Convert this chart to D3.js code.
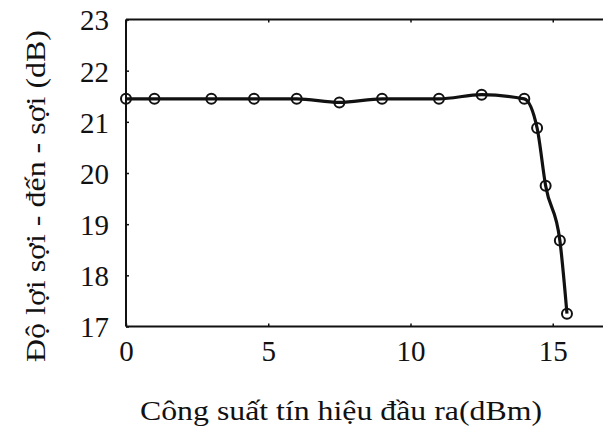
<!DOCTYPE html>
<html>
<head>
<meta charset="utf-8">
<script src="https://cdn.jsdelivr.net/npm/d3@7"></script>
<style>
  html, body { margin: 0; padding: 0; background: #fff; }
  svg { display: block; }
</style>
</head>
<body>
<svg id="chart" width="603" height="443"></svg>
<script>
// Output power (dBm) and fibre-to-fibre gain (dB)
const outputPower = [0, 1, 3, 4.5, 6, 7.5, 9, 11, 12.5, 14, 14.45, 14.75, 15.25, 15.5];
const gain = [21.45, 21.45, 21.45, 21.45, 21.45, 21.38, 21.45, 21.45, 21.53, 21.45, 20.88, 19.75, 18.68, 17.25];
const xTicks = [0, 5, 10, 15];
const yTicks = [17, 18, 19, 20, 21, 22, 23];
const xTitle = "Công suất tín hiệu đầu ra(dBm)";
const yTitle = "Độ lợi sợi - đến - sợi (dB)";

const serif = "'Liberation Serif'";
const svg = d3.select("#chart");
const plotLeft = 126, plotTop = 19.5, plotBottom = 326.5, pxPerUnit = 28.45;

const x = d3.scaleLinear().domain([0, 17.5]).range([plotLeft, plotLeft + 17.5 * pxPerUnit]);
const y = d3.scaleLinear().domain([17, 23]).range([plotBottom, plotTop]);

function setFont(node, size) {
  node.style.fontFamily = serif;
  node.style.fontSize = size + "px";
}

// Frame: left, bottom and top edges (right edge lies outside the view)
const frame = svg.append("g").attr("stroke", "#111").attr("stroke-width", 2).attr("fill", "none");
frame.append("line").attr("x1", x(0)).attr("x2", x(0)).attr("y1", y(23)).attr("y2", y(17));
frame.append("line").attr("x1", x(0)).attr("x2", x(17.5)).attr("y1", y(17)).attr("y2", y(17));
frame.append("line").attr("x1", x(0)).attr("x2", x(17.5)).attr("y1", y(23)).attr("y2", y(23));

// Y axis: labels outside, short ticks inside
const yAxis = svg.append("g").attr("transform", `translate(${x(0)},0)`)
  .call(d3.axisLeft(y).tickValues(yTicks).tickSize(-3).tickPadding(17).tickFormat(d3.format("d")));
yAxis.attr("font-family", null).attr("font-size", null);
yAxis.select(".domain").remove();
yAxis.selectAll("line").attr("stroke", "#111").attr("stroke-width", 1.5);
yAxis.selectAll("text").each(function () { setFont(this, 29); })
  .attr("fill", "#111").attr("dy", "0.36em");

// X axis at bottom
const xAxis = svg.append("g").attr("transform", `translate(0,${y(17)})`)
  .call(d3.axisBottom(x).tickValues(xTicks).tickSize(-3).tickPadding(14).tickFormat(d3.format("d")));
xAxis.attr("font-family", null).attr("font-size", null);
xAxis.select(".domain").remove();
xAxis.selectAll("line").attr("stroke", "#111").attr("stroke-width", 1.5);
xAxis.selectAll("text").each(function () { setFont(this, 29); })
  .attr("fill", "#111");

// Top edge ticks
const xTop = svg.append("g").attr("transform", `translate(0,${y(23)})`)
  .call(d3.axisTop(x).tickValues(xTicks).tickSize(-3).tickFormat(""));
xTop.select(".domain").remove();
xTop.selectAll("line").attr("stroke", "#111").attr("stroke-width", 1.5);

// Gain curve
const line = d3.line()
  .x((d, i) => x(outputPower[i]))
  .y(d => y(d))
  .curve(d3.curveMonotoneX);
svg.append("path")
  .datum(gain)
  .attr("d", line)
  .attr("fill", "none")
  .attr("stroke", "#111")
  .attr("stroke-width", 3.2);

// Open circle markers
svg.append("g").selectAll("circle")
  .data(gain)
  .join("circle")
  .attr("cx", (d, i) => x(outputPower[i]))
  .attr("cy", d => y(d))
  .attr("r", 5)
  .attr("fill", "none")
  .attr("stroke", "#111")
  .attr("stroke-width", 2);

// Axis titles
const xt = svg.append("text")
  .attr("x", 341).attr("y", 420)
  .attr("text-anchor", "middle")
  .attr("fill", "#111")
  .attr("textLength", 402)
  .attr("lengthAdjust", "spacingAndGlyphs")
  .text(xTitle);
setFont(xt.node(), 28);

const yt = svg.append("text")
  .attr("transform", "translate(45,196) rotate(-90)")
  .attr("text-anchor", "middle")
  .attr("fill", "#111")
  .attr("textLength", 332)
  .attr("lengthAdjust", "spacingAndGlyphs")
  .text(yTitle);
setFont(yt.node(), 28);
</script>
</body>
</html>
